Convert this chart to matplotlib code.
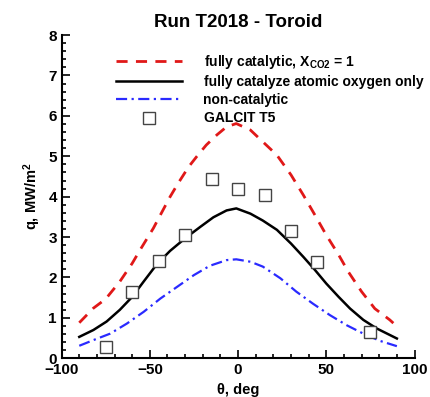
import matplotlib
matplotlib.use("Agg")
import matplotlib.pyplot as plt
from matplotlib.ticker import MultipleLocator

plt.rcParams['font.family'] = ['Liberation Sans', 'DejaVu Sans']
plt.rcParams['font.weight'] = 'bold'
plt.rcParams['mathtext.fontset'] = 'custom'
plt.rcParams['mathtext.rm'] = 'Liberation Sans:bold'
plt.rcParams['mathtext.bf'] = 'Liberation Sans:bold'
plt.rcParams['mathtext.default'] = 'rm'

# fully catalytic, X_CO2 = 1
theta_fc = [-90, -82, -75, -67, -60, -55, -48, -44, -38.5, -34, -28, -23.5, -18, -12, -6.5, -1,
            7, 14, 22, 30, 37, 43.5, 50, 57, 62.5, 70, 77.5, 86, 88]
q_fc = [0.88, 1.24, 1.47, 1.90, 2.35, 2.72, 3.22, 3.55, 4.00, 4.33, 4.74, 4.99, 5.28, 5.53, 5.73, 5.81,
        5.65, 5.36, 5.03, 4.54, 4.04, 3.55, 3.05, 2.56, 2.14, 1.65, 1.23, 0.95, 0.87]

# fully catalyze atomic oxygen only
theta_ox = [-90, -82, -74.5, -67, -60, -53.5, -46, -38.5, -30, -21.5, -14, -6.5, -1,
            7, 14, 22, 30, 37, 43.5, 50, 57, 63.5, 71, 78.5, 90]
q_ox = [0.53, 0.70, 0.91, 1.20, 1.52, 1.90, 2.33, 2.66, 2.97, 3.25, 3.49, 3.66, 3.71,
        3.58, 3.41, 3.18, 2.84, 2.51, 2.19, 1.85, 1.52, 1.23, 0.95, 0.74, 0.49]

# non-catalytic
theta_nc = [-90, -82, -72.5, -63, -53.5, -44, -34.5, -25, -16, -6.5, -1,
            7, 14, 24, 33, 42.5, 52, 61.5, 71, 80.5, 90]
q_nc = [0.31, 0.45, 0.61, 0.86, 1.15, 1.48, 1.77, 2.06, 2.29, 2.43, 2.45,
        2.39, 2.27, 1.98, 1.65, 1.35, 1.07, 0.82, 0.61, 0.43, 0.30]

# GALCIT T5 measurements
theta_exp = [-75, -60, -45, -30, -15, 0, 15, 30, 45, 75]
q_exp = [0.28, 1.63, 2.41, 3.05, 4.45, 4.19, 4.05, 3.14, 2.39, 0.65]

labels = [r"fully catalytic, X$_{\mathrm{CO2}}$ = 1",
          "fully catalyze atomic oxygen only",
          "non-catalytic",
          "GALCIT T5"]

fig = plt.figure(figsize=(4.30, 3.97), dpi=100)
ax = fig.add_axes([0.1433, 0.0975, 0.964 - 0.1433, 0.9116 - 0.0975])

l1, = ax.plot(theta_fc, q_fc, color='#e01818', lw=2.0, dashes=(4, 3))
l2, = ax.plot(theta_ox, q_ox, color='black', lw=1.8)
l3, = ax.plot(theta_nc, q_nc, color='#2a2aff', lw=1.6, dashes=(5, 2, 1, 2))
l4, = ax.plot(theta_exp, q_exp, ls='none', marker='s', ms=8.5, mfc='white',
              mec='#444444', mew=1.0)

ax.set_xlim(-100, 100)
ax.set_ylim(0, 8)
ax.xaxis.set_major_locator(MultipleLocator(50))
ax.xaxis.set_minor_locator(MultipleLocator(10))
ax.yaxis.set_major_locator(MultipleLocator(1))
ax.yaxis.set_minor_locator(MultipleLocator(0.2))
ax.tick_params(which='both', direction='in', width=1.2, labelsize=11)
ax.tick_params(which='major', length=6)
ax.tick_params(which='minor', length=3)
for s in ['top', 'right']:
    ax.spines[s].set_visible(False)
for s in ['left', 'bottom']:
    ax.spines[s].set_linewidth(1.5)

ax.set_xlabel(r"θ, deg", fontsize=10.5, fontweight='bold')
ax.set_ylabel(r"q, MW/m$^2$", fontsize=10.5, fontweight='bold')
ax.set_title("Run T2018 - Toroid", fontsize=13.5, fontweight='bold', pad=6)

leg = fig.legend([l1, l2, l3, l4], labels, loc='upper left',
                 bbox_to_anchor=(116 / 430, 1 - 53 / 397), frameon=False,
                 fontsize=10, handlelength=4.75, handletextpad=1.55,
                 labelspacing=0.3, borderpad=0, borderaxespad=0)

fig.savefig("out.png", dpi=100)
